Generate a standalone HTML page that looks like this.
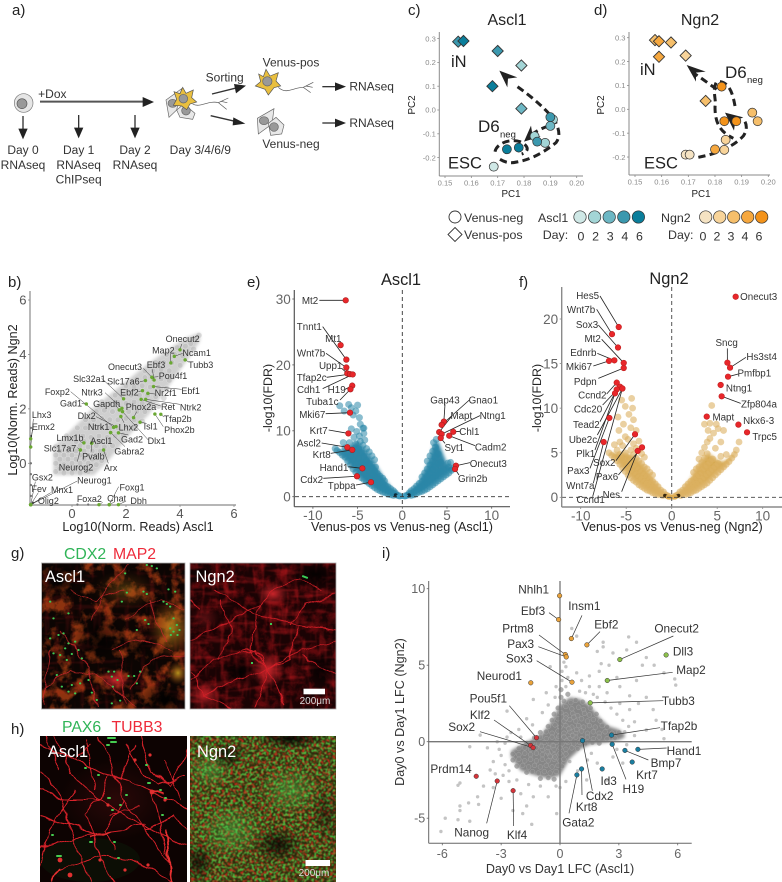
<!DOCTYPE html>
<html lang="en">
<head>
<meta charset="utf-8">
<title>Neuronal differentiation figure</title>
<style>
html,body{margin:0;padding:0;background:#fff;width:782px;height:882px;overflow:hidden}
svg{display:block;font-family:"Liberation Sans",sans-serif}
</style>
</head>
<body>
<svg id="fig" width="782" height="882" viewBox="0 0 782 882" xmlns="http://www.w3.org/2000/svg">
<defs>
<filter id="soft" filterUnits="userSpaceOnUse" x="0" y="270" width="782" height="612" color-interpolation-filters="sRGB">
<feGaussianBlur stdDeviation="1.7"/>
</filter>
<filter id="hazeRed" x="0" y="0" width="100%" height="100%" color-interpolation-filters="sRGB">
<feTurbulence type="fractalNoise" baseFrequency="0.09" numOctaves="4" seed="4"/>
<feColorMatrix values="0 0 0 0 .6  0 0 0 0 .06  0 0 0 0 .08  3 0 0 0 -1.3"/>
</filter>
<filter id="hazeOrange" x="0" y="0" width="100%" height="100%" color-interpolation-filters="sRGB">
<feTurbulence type="fractalNoise" baseFrequency="0.07" numOctaves="4" seed="9"/>
<feColorMatrix values="0 0 0 0 .55  0 0 0 0 .2  0 0 0 0 .06  4 0 0 0 -1.9"/>
</filter>
<filter id="streakA" x="0" y="0" width="100%" height="100%" color-interpolation-filters="sRGB">
<feTurbulence type="fractalNoise" baseFrequency="0.03 0.2" numOctaves="3" seed="12"/>
<feColorMatrix values="0 0 0 0 .86  0 0 0 0 .12  0 0 0 0 .14  7 0 0 0 -3.9"/>
<feGaussianBlur stdDeviation=".5"/>
</filter>
<filter id="streakB" x="0" y="0" width="100%" height="100%" color-interpolation-filters="sRGB">
<feTurbulence type="fractalNoise" baseFrequency="0.2 0.03" numOctaves="3" seed="31"/>
<feColorMatrix values="0 0 0 0 .86  0 0 0 0 .12  0 0 0 0 .14  7 0 0 0 -3.9"/>
<feGaussianBlur stdDeviation=".5"/>
</filter>
<filter id="speckGreen" x="0" y="0" width="100%" height="100%" color-interpolation-filters="sRGB">
<feTurbulence type="fractalNoise" baseFrequency="0.42" numOctaves="2" seed="7"/>
<feColorMatrix values="0 0 0 0 .3  0 0 0 0 .76  0 0 0 0 .26  7 0 0 0 -3.5"/>
<feGaussianBlur stdDeviation=".45"/>
</filter>
<filter id="speckRed" x="0" y="0" width="100%" height="100%" color-interpolation-filters="sRGB">
<feTurbulence type="fractalNoise" baseFrequency="0.36" numOctaves="2" seed="21"/>
<feColorMatrix values="0 0 0 0 .78  0 0 0 0 .16  0 0 0 0 .1  6 0 0 0 -2.9"/>
<feGaussianBlur stdDeviation=".45"/>
</filter>
<filter id="wiggle" filterUnits="userSpaceOnUse" x="0" y="540" width="350" height="342" color-interpolation-filters="sRGB">
<feTurbulence type="fractalNoise" baseFrequency="0.06" numOctaves="2" seed="5" result="n"/>
<feDisplacementMap in="SourceGraphic" in2="n" scale="9" xChannelSelector="R" yChannelSelector="G"/>
</filter>
<radialGradient id="glowRed"><stop offset="0" stop-color="#e52a30" stop-opacity=".85"/><stop offset="1" stop-color="#e52a30" stop-opacity="0"/></radialGradient>
<radialGradient id="glowOrange"><stop offset="0" stop-color="#c8a020" stop-opacity=".9"/><stop offset="1" stop-color="#a04510" stop-opacity="0"/></radialGradient>
<radialGradient id="glowDark"><stop offset="0" stop-color="#000" stop-opacity=".9"/><stop offset="1" stop-color="#000" stop-opacity="0"/></radialGradient>
<radialGradient id="glowGreen"><stop offset="0" stop-color="#50d050" stop-opacity=".4"/><stop offset="1" stop-color="#50d050" stop-opacity="0"/></radialGradient>
<clipPath id="clipGA"><rect x="42" y="563" width="143" height="146"/></clipPath>
<clipPath id="clipGN"><rect x="190" y="563" width="146" height="146"/></clipPath>
<clipPath id="clipHA"><rect x="40" y="736" width="147" height="146"/></clipPath>
<clipPath id="clipHN"><rect x="190" y="736" width="146" height="146"/></clipPath>
</defs>

<!-- panel letters -->
<g font-size="15" fill="#222">
<text x="12" y="15">a)</text>
<text x="8" y="287">b)</text>
<text x="408" y="15">c)</text>
<text x="594" y="15">d)</text>
<text x="247" y="287">e)</text>
<text x="519" y="287">f)</text>
<text x="11" y="558">g)</text>
<text x="11" y="734">h)</text>
<text x="382" y="558">i)</text>
</g>

<!-- panel a: schematic, coordinates are 3x -->
<g transform="scale(.33333)">
 <circle cx="71" cy="309" r="28" fill="#e6e6e6" stroke="#777" stroke-width="2"/>
 <circle cx="66" cy="311" r="15" fill="#999" stroke="#555" stroke-width="2"/>
 <g stroke="#333" stroke-width="4" fill="none">
  <line x1="120" y1="305" x2="435" y2="305" stroke="#555" stroke-width="6"/>
  <line x1="69" y1="348" x2="69" y2="392"/><line x1="236" y1="345" x2="236" y2="390"/><line x1="405" y1="345" x2="405" y2="390"/>
  <line x1="636" y1="282" x2="712" y2="263"/><line x1="632" y1="347" x2="710" y2="365"/>
  <line x1="967" y1="260" x2="1010" y2="260"/><line x1="967" y1="369" x2="1010" y2="369"/>
 </g>
 <g fill="#222">
  <polygon points="462,306 428,291 428,321"/>
  <polygon points="69,418 55,386 83,386"/><polygon points="236,415 222,383 250,383"/><polygon points="405,415 391,383 419,383"/>
  <polygon points="738,257 702,252 708,280"/><polygon points="736,371 700,352 698,376"/>
  <polygon points="1038,260 1005,247 1005,273"/><polygon points="1038,369 1005,356 1005,382"/>
 </g>
 <g stroke="#666" stroke-width="2" fill="#e8e8e8">
  <polygon points="498,300 545,266 530,330 507,352"/>
  <ellipse cx="518" cy="310" rx="14" ry="12" fill="#999"/>
  <polygon points="530,330 552,312 585,340 578,358 540,352"/>
  <circle cx="558" cy="332" r="13" fill="#999"/>
  <polygon fill="#e9bf3f" stroke="#555" points="548,262 558,280 580,270 575,293 590,306 570,312 560,329 545,318 520,316 530,298 522,275 540,281"/>
  <circle cx="550" cy="296" r="13" fill="#999"/>
  <path fill="none" stroke="#555" d="M578,312 C600,325 625,300 655,308 M655,308 L685,294 M655,308 L680,328 M662,304 L682,308"/>
 </g>
 <g stroke="#666" stroke-width="2">
  <polygon fill="#e9bf3f" stroke="#555" points="798,208 810,228 835,218 828,243 842,258 822,263 805,285 795,268 766,258 782,245 776,222 790,230"/>
  <circle cx="802" cy="244" r="14" fill="#999"/>
  <path fill="none" stroke="#555" d="M835,262 C860,285 880,262 910,262 M910,262 L940,247 M910,262 L932,278 M918,258 L938,262"/>
 </g>
 <g stroke="#666" stroke-width="2" fill="#e8e8e8">
  <polygon points="772,355 822,326 816,372 775,402"/>
  <ellipse cx="792" cy="362" rx="14" ry="12" fill="#999"/>
  <polygon points="805,370 828,352 852,375 845,402 812,406"/>
  <circle cx="822" cy="381" r="13" fill="#999"/>
 </g>
 <g font-size="36" fill="#333" text-anchor="middle">
  <text x="157" y="294">+Dox</text>
  <text x="69" y="462">Day 0</text>
  <text x="69" y="507">RNAseq</text>
  <text x="236" y="462">Day 1</text>
  <text x="236" y="507">RNAseq</text>
  <text x="236" y="550">ChIPseq</text>
  <text x="405" y="462">Day 2</text>
  <text x="405" y="507">RNAseq</text>
  <text x="601" y="462">Day 3/4/6/9</text>
  <text x="674" y="244">Sorting</text>
  <text x="873" y="200">Venus-pos</text>
  <text x="873" y="444">Venus-neg</text>
  <text x="1115" y="271">RNAseq</text>
  <text x="1115" y="381">RNAseq</text>
 </g>
</g>

<!-- trajectories for panels c and d, coordinates are 3x -->
<g id="paths-cd" transform="translate(400,0) scale(.33333)">
 <g fill="none" stroke="#222" stroke-width="9" stroke-dasharray="22 13">
  <path d="M300,478 C320,490 335,490 350,486 C400,478 440,450 468,428 C482,410 478,385 462,358 C430,320 395,290 345,255"/>
  <path d="M285,455 C290,430 330,415 360,425 C385,435 390,455 365,462"/>
  <path d="M445,378 C425,385 405,395 390,408"/>
  <path d="M895,472 C930,465 990,450 1030,408 C1042,390 1040,375 1035,365"/>
  <path d="M1005,318 C1000,290 990,240 950,245 C935,270 950,300 945,320 C945,370 960,395 1000,415"/>
  <path d="M950,268 C925,250 905,235 885,222"/>
 </g>
 <g fill="#222">
  <polygon points="298,212 352,232 324,236 322,262"/>
  <polygon points="372,425 393,377 397,402 422,410"/>
  <polygon points="860,195 917,215 888,218 888,245"/>
  <polygon points="975,338 1030,352 1006,362 1002,392"/>
 </g>
</g>

<!-- panel g -->
<text x="64" y="559" font-size="15.8" fill="#2fb457">CDX2</text>
<text x="113" y="559" font-size="15.8" fill="#ee2a3a">MAP2</text>
<g clip-path="url(#clipGA)">
 <rect x="42" y="563" width="143" height="146" fill="#0c0503"/>
 <rect x="42" y="563" width="143" height="146" filter="url(#hazeOrange)"/>
 <rect x="42" y="563" width="143" height="146" filter="url(#streakA)" opacity=".13"/>
 <rect x="42" y="563" width="143" height="146" filter="url(#streakB)" opacity=".13"/>
 <ellipse cx="172" cy="628" rx="24" ry="30" fill="url(#glowOrange)" opacity=".85"/>
 <ellipse cx="178" cy="673" rx="11" ry="12" fill="url(#glowOrange)"/>
 <ellipse cx="115" cy="680" rx="15" ry="11" fill="url(#glowRed)"/>
 <ellipse cx="125" cy="590" rx="32" ry="20" fill="url(#glowOrange)" opacity=".35"/>
 <ellipse cx="100" cy="640" rx="26" ry="28" fill="url(#glowDark)" opacity=".8"/>
 <ellipse cx="165" cy="700" rx="26" ry="18" fill="url(#glowDark)"/>
 <ellipse cx="58" cy="580" rx="20" ry="20" fill="url(#glowDark)"/>
 <ellipse cx="140" cy="650" rx="16" ry="14" fill="url(#glowDark)" opacity=".6"/>
 <path filter="url(#wiggle)" fill="none" stroke="#c8282a" stroke-width=".9" opacity=".85" d="M90,620 L110,585 L128,565 M60,630 L85,660 L98,708 M125,620 L160,600 L185,610 M110,650 L135,640 L175,650 M45,690 L70,670 L105,680 L135,708 M130,690 L150,660 L185,655 M70,590 L95,600 L125,590 M165,640 L150,600 M50,650 L44,705 M120,650 L125,705"/>
 <path transform="translate(0,530) scale(.33333)" fill="none" stroke="#3ccb55" stroke-width="6" stroke-linecap="round" d="M455,108h1M470,115h1M440,105h1M375,130h1M430,185h1M440,192h1M505,178h1M525,185h1M380,188h1M365,215h1M500,222h1M490,215h1M510,230h1M150,215h1M160,265h1M435,270h1M445,282h1M410,300h1M520,265h1M530,285h1M510,295h1M520,305h1M538,300h1M512,315h1M532,315h1M190,310h1M150,325h1M175,315h1M205,340h1M225,335h1M195,355h1M235,360h1M215,372h1M180,375h1M245,385h1M200,390h1M160,370h1M325,425h1M342,425h1M335,440h1M352,450h1M385,438h1M402,438h1M420,425h1M338,470h1M410,460h1M185,470h1M205,485h1M215,465h1M240,460h1M225,490h1M170,435h1M360,512h1M335,520h1M290,510h1M275,488h1M265,450h1M205,250h1"/>
</g>
<g clip-path="url(#clipGN)">
 <rect x="190" y="563" width="146" height="146" fill="#1a0304"/>
 <rect x="190" y="563" width="146" height="146" filter="url(#hazeRed)" opacity=".55"/>
 <rect x="190" y="563" width="146" height="146" filter="url(#streakA)" opacity=".28"/>
 <rect x="190" y="563" width="146" height="146" filter="url(#streakB)" opacity=".28"/>
 <ellipse cx="273" cy="594" rx="16" ry="11" fill="url(#glowRed)"/>
 <ellipse cx="268" cy="670" rx="17" ry="18" fill="url(#glowRed)"/>
 <ellipse cx="205" cy="695" rx="16" ry="14" fill="url(#glowRed)" opacity=".85"/>
 <ellipse cx="205" cy="618" rx="14" ry="12" fill="url(#glowRed)" opacity=".35"/>
 <ellipse cx="240" cy="672" rx="20" ry="15" fill="url(#glowDark)"/>
 <ellipse cx="322" cy="670" rx="16" ry="20" fill="url(#glowDark)"/>
 <ellipse cx="315" cy="575" rx="28" ry="14" fill="url(#glowDark)"/>
 <ellipse cx="200" cy="575" rx="14" ry="12" fill="url(#glowDark)" opacity=".7"/>
 <path filter="url(#wiggle)" fill="none" stroke="#d62028" stroke-width=".9" opacity=".9" d="M190,640 L230,620 L260,605 L275,590 M215,590 L255,615 L300,625 L336,630 M260,605 L250,650 L268,670 M300,625 L290,660 L268,670 M190,680 L215,660 L255,650 L268,670 L300,650 L336,640 M205,695 L235,680 L268,670 L285,705 M205,695 L190,670 M205,695 L230,708 M268,670 L255,708 M300,655 L336,675 M220,660 L232,632 L220,600 M336,595 L305,605 L290,625 M275,590 L300,578 L322,590 M235,655 C250,645 265,650 262,665 M200,610 L190,600"/>
 <rect x="302" y="576" width="6" height="2" fill="#3ccb55" transform="rotate(20 305 577)"/>
 <rect x="270" y="623" width="2" height="2" fill="#3ccb55"/><rect x="251" y="662" width="2" height="2" fill="#3ccb55"/>
</g>
<rect x="41.5" y="563" width="143.5" height="146" fill="none" stroke="#aaa" stroke-width=".8"/>
<rect x="190" y="563" width="146" height="146" fill="none" stroke="#aaa" stroke-width=".8"/>
<text x="45" y="582" font-size="16.4" fill="#fff">Ascl1</text>
<text x="195.5" y="582" font-size="16.4" fill="#fff">Ngn2</text>
<rect x="303.5" y="688.7" width="21.5" height="5.6" fill="#fff"/>
<text x="315" y="704" font-size="10" text-anchor="middle" fill="#ddd">200μm</text>

<!-- panel h -->
<text x="62" y="732" font-size="15.8" fill="#2fb457">PAX6</text>
<text x="111.5" y="732" font-size="15.8" fill="#ee2a3a">TUBB3</text>
<g clip-path="url(#clipHA)">
 <rect x="40" y="736" width="147" height="146" fill="#0d0302"/>
 <ellipse cx="115" cy="800" rx="55" ry="40" fill="url(#glowRed)" opacity=".16"/>
 <ellipse cx="90" cy="860" rx="50" ry="22" fill="#0c1608" opacity=".6"/>
 <g filter="url(#wiggle)">
 <path fill="none" stroke="#d8222a" stroke-width="1" d="M40,745 L75,760 L110,775 L150,790 L187,810 M55,736 L72,775 L100,800 L140,825 L187,845 M100,736 L115,775 L125,800 L145,830 L170,865 L172,882 M125,745 L140,770 L160,785 L187,775 M140,736 L150,770 L170,785 L187,750 M40,790 L65,800 L100,800 M40,815 L70,825 L95,835 L120,830 L145,825 M40,850 L65,840 L95,835 L100,860 L115,882 M95,835 L85,815 L100,800 L110,775 M60,870 L95,855 L140,862 L172,882 M145,830 L175,815 L187,830 M150,790 L160,825 L166,855 M125,800 L105,830 L115,850 M40,770 L60,795 L75,845 L90,882 M75,760 L90,745 M165,760 L180,800 M45,735 L60,770 M85,740 L95,790 M50,830 L40,870 M120,780 L135,745 M110,815 L140,805 M75,790 L50,830"/>
 <path fill="none" stroke="#e63030" stroke-width="1.8" d="M166,830 L168,855 L172,882 M150,790 L165,792 M92,838 L112,832 M60,868 L52,882"/>
 </g>
 <g fill="#e03030"><circle cx="135" cy="760" r="1.6"/><circle cx="152" cy="792" r="2.4"/><circle cx="108" cy="805" r="1.6"/><circle cx="150" cy="755" r="1.6"/><circle cx="60" cy="860" r="2.4"/><circle cx="100" cy="860" r="1.6"/><circle cx="148" cy="865" r="1.6"/><circle cx="125" cy="870" r="1.6"/><circle cx="70" cy="875" r="2.4"/><circle cx="165" cy="800" r="1.6"/></g>
 <path fill="none" stroke="#46cc50" stroke-width="2" stroke-linecap="round" d="M108,738h7M111,742h5M107,745h2M146,765h1M148,783h2M126,795h1M108,798h2M112,810h1M120,805h1M165,798h1M162,815h1M52,835h1M57,856h4M90,842h2M114,842h1M118,858h1M85,768h1M98,775h1M160,790h1"/>
</g>
<g clip-path="url(#clipHN)">
 <rect x="190" y="736" width="146" height="146" fill="#2c2c0c"/>
 <rect x="190" y="736" width="146" height="146" filter="url(#speckRed)"/>
 <rect x="190" y="736" width="146" height="146" filter="url(#speckGreen)"/>
 <ellipse cx="290" cy="790" rx="32" ry="26" fill="url(#glowGreen)"/>
 <ellipse cx="232" cy="830" rx="34" ry="28" fill="url(#glowGreen)"/>
 <ellipse cx="210" cy="770" rx="22" ry="20" fill="url(#glowGreen)"/>
 <ellipse cx="228" cy="755" rx="18" ry="14" fill="url(#glowDark)" opacity=".8"/>
 <ellipse cx="290" cy="738" rx="34" ry="12" fill="url(#glowDark)"/>
 <ellipse cx="278" cy="845" rx="26" ry="18" fill="url(#glowDark)" opacity=".85"/>
 <ellipse cx="198" cy="862" rx="16" ry="20" fill="url(#glowDark)" opacity=".8"/>
 <ellipse cx="325" cy="815" rx="14" ry="30" fill="url(#glowDark)" opacity=".45"/>
</g>
<text x="48" y="757" font-size="16.4" fill="#fff">Ascl1</text>
<text x="197" y="757" font-size="16.4" fill="#fff">Ngn2</text>
<rect x="305.5" y="860" width="24.5" height="6" fill="#fff"/>
<text x="314" y="876" font-size="10" text-anchor="middle" fill="#ddd">200μm</text>

<g id="plots"></g>
</svg>

<script>
/* ---------- panel b data ---------- */
const bTicks = [0,2,4,6];
const bBandX = [-.65,-.2,.3,.8,1.3,1.8,2.3,2.8,3.3,3.8,4.3,4.7];
const bBandLo = [-.4,-.4,-.4,-.4,.1,.7,1.3,1.8,2.5,3.2,3.9,4.5];
const bBandHi = [.6,1,1.5,2,2.4,2.8,3.2,3.6,3.95,4.3,4.6,4.75];
const bCloud = [[-.6,-.3],[-.3,-.35],[0,-.35],[.3,-.35],[.6,-.3],[-.6,0],[-.3,-.05],[0,0],[.3,0],[.6,0],[.9,-.05],[1.1,.1],[-.6,.3],[-.3,.3],[0,.3],[.3,.3],[.6,.3],[.9,.3],[1.2,.35],[-.6,.6],[-.3,.65],[0,.6],[.3,.65],[.6,.6],[.9,.65],[1.2,.6],[1.5,.65],[-.2,1],[.1,.95],[.4,1],[.7,.95],[1,1],[1.3,.95],[1.6,1],[1.9,1.05],[.2,1.3],[.5,1.3],[.8,1.3],[1.1,1.3],[1.4,1.3],[1.7,1.3],[2,1.35],[2.3,1.3],[.5,1.6],[.8,1.6],[1.1,1.65],[1.4,1.6],[1.7,1.6],[2,1.65],[2.3,1.6],[2.6,1.55],[.9,1.9],[1.2,1.95],[1.5,1.9],[1.8,1.95],[2.1,1.9],[2.4,1.9],[2.7,1.9],[1.1,2.25],[1.4,2.2],[1.7,2.25],[2,2.2],[2.3,2.25],[2.6,2.2],[2.9,2.2],[3.2,2.1],[1.6,2.5],[1.9,2.55],[2.2,2.5],[2.5,2.5],[2.8,2.5],[3.1,2.45],[3.4,2.4],[2,2.85],[2.3,2.8],[2.6,2.85],[2.9,2.8],[3.2,2.8],[3.5,2.75],[2.4,3.1],[2.7,3.15],[3,3.1],[3.3,3.1],[3.6,3.05],[2.7,3.4],[3,3.4],[3.3,3.45],[3.6,3.4],[3.1,3.7],[3.4,3.7],[3.7,3.7],[4,3.6],[3.5,4],[3.8,4],[4.1,3.95],[3.9,4.25],[4.2,4.3],[4.4,4.4],[4.6,4.6],[4.7,4.7],[4.5,4.2],[-.45,-.2],[-.15,-.2],[.15,-.15],[.45,-.15],[-.45,.15],[-.15,.15],[.15,.15],[.45,.15],[.75,.15],[-.45,.45],[-.15,.45],[.15,.45],[.45,.45],[.75,.45],[1.05,.45],[.15,.8],[.45,.8],[.75,.8],[1.05,.8],[1.35,.8]];
const bAxisEdge = [[-1.53,-1.2],[-1.53,-.8],[-1.53,-.4],[-1.53,0],[-1.53,.6],[-1.53,1],[-1.53,1.3],[.2,-1.52],[.6,-1.52],[1,-1.52],[1.38,-1.52],[1.72,-1.52],[-1.5,-1.5],[-1.44,-1.45]];
const bGenes = ['Onecut2','Ncam1','Map2','Tubb3','Onecut3','Ebf3','Slc32a1','Slc17a6','Pou4f1','Ebf2','Nr2f1','Ebf1','Foxp2','Ntrk3','Gad1','Gapdh','Phox2a','Ret','Ntrk2','Dlx2','Tfap2b','Phox2b','Ntrk1','Lhx2','Isl1','Dlx1','Gad2','Lmx1b','Ascl1','Slc17a7','Gabra2','Pvalb','Neurog2','Arx','Lhx3','Emx2','Gsx2','Fev','Mnx1','Olig2','Neurog1','Foxa2','Chat','Dbh','Foxg1'];
const bGeneX = [4.0,3.79,3.66,4.19,2.96,3.04,1.91,2.72,2.96,2.61,2.81,3.02,1.54,1.85,.53,1.75,2.28,2.56,2.73,1.63,3.29,3.07,1.43,1.81,2.52,1.87,1.72,.44,.73,.31,1.43,.73,.31,1.17,-1.53,-1.53,-1.53,-1.53,-1.53,-1.53,-1.53,1.0,1.38,1.72,1.38];
const bGeneY = [4.17,3.93,3.69,3.8,3.16,3.06,2.37,3.04,3.16,2.67,2.57,2.82,1.32,2.02,2.18,1.96,1.68,2.35,2.35,1.35,1.8,1.81,1.13,1.72,1.51,1.9,1.12,.75,.74,.49,1.13,.74,.49,.49,.6,.9,-1.52,-1.52,-1.52,-1.52,-1.52,-1.52,-1.52,-1.52,-1.52];
const bLabelAt = [[548,207,545,222],[590,249,548,250],[490,241,512,252],[602,284,565,275],[375,291,430,295],[468,285,457,298],[268,327,305,325],[370,334,420,335],[519,318,475,320],[388,367,415,365],[497,369,465,372],[572,362,545,358],[172,365,212,365],[276,367,315,368],[213,400,245,401],[320,401,350,410],[423,411,410,425],[504,410,482,408],[572,412,540,403],[260,438,288,440],[533,446,492,441],[538,479,490,470],[296,470],[385,472,372,458],[452,469,440,460],[470,513,445,510],[396,508,385,495],[210,503,240,515],[304,513],[180,535,232,533],[388,544,375,530],[280,559,275,545],[228,592,232,575],[332,594,325,580],[125,434,100,447],[130,471,98,480],[127,622,106,635],[117,656,115,668],[186,659,152,668],[145,692,115,690],[283,631,232,633],[268,686,308,697],[350,685,345,695],[416,692,375,695],[396,652,356,650]];

/* ---------- panels c and d data ---------- */
const cTickX = [.15,.16,.17,.18,.19,.20];
const cTickY = [.3,.2,.1,0,-.1,-.2];
const cDiamondX = [.155,.157,.17,.179,.168,.179];
const cDiamondY = [.287,.29,.248,.187,.10,.006];
const cDiamondDay = [4,6,4,2,6,3];
const cCircleX = [.1685,.1735,.178,.188,.184,.185,.191,.19,.19];
const cCircleY = [-.238,-.165,-.158,-.138,-.11,-.133,-.04,-.067,-.03];
const cCircleDay = [0,6,6,2,2,4,2,3,4];
const dDiamondX = [.1575,.159,.1635,.159,.169,.1765];
const dDiamondY = [.29,.285,.28,.22,.225,.035];
const dDiamondDay = [3,4,3,4,2,3];
const dCircleX = [.169,.1705,.18,.1835,.184,.1825,.1835,.188,.194,.196];
const dCircleY = [-.19,-.19,-.168,-.17,-.128,.095,-.05,-.05,-.014,-.05];
const dCircleDay = [0,0,4,2,2,6,6,6,3,3];
const legendDays = [0,2,3,4,6];

/* ---------- panel e data ---------- */
const eTickX = [-10,-5,0,5,10];
const eTickY = [0,10,20,30];
const eLeftBandX = [0,-1,-2,-3,-4,-5,-6,-7,-7.6];
const eLeftBandLo = [0,.1,.5,1.2,2.1,3.3,5,6.5,7.3];
const eLeftBandHi = [0,1,2.8,5,7,8.5,7.6,7,7.4];
const eRightBandX = [0,1,2,3,3.5,4,5,5.8];
const eRightBandLo = [0,.1,.6,1.4,1.8,2.3,3.3,4.1];
const eRightBandHi = [0,.9,2.6,5.5,8,8.5,5,4.5];
const eOriginDark = [[-.75,.25],[-.6,.15],[.6,.15],[.75,.25]];
const eBlue = [[-.3,.1],[-.5,.2],[-.7,.3],[-.8,.6],[-1,.2],[-1,.5],[-1,.9],[-1.3,.3],[-1.3,.7],[-1.3,1.2],[-1.6,.4],[-1.6,.9],[-1.6,1.5],[-1.9,.6],[-1.9,1.1],[-1.9,1.7],[-2,2.4],[-2.2,.7],[-2.2,1.3],[-2.2,2],[-2.2,2.8],[-2.5,.9],[-2.5,1.5],[-2.5,2.2],[-2.5,3.1],[-2.8,1.1],[-2.8,1.8],[-2.8,2.6],[-2.8,3.5],[-3,4.5],[-3.1,1.4],[-3.1,2.2],[-3.1,3],[-3.1,3.9],[-3.1,5.6],[-3.4,1.7],[-3.4,2.5],[-3.4,3.4],[-3.4,4.4],[-3.4,6.2],[-3.7,2],[-3.7,2.9],[-3.7,3.9],[-3.7,5],[-3.7,6.8],[-4,2.3],[-4,3.2],[-4,4.3],[-4,5.5],[-4,7.3],[-4.2,8.6],[-4.3,2.6],[-4.3,3.6],[-4.3,4.8],[-4.3,6.1],[-4.4,7.8],[-4.6,2.9],[-4.6,4],[-4.6,5.2],[-4.6,6.7],[-4.7,8.4],[-4.3,9.6],[-4.9,3.3],[-4.9,4.5],[-4.9,5.8],[-4.9,7.3],[-4.8,9.2],[-5.2,3.7],[-5.2,5],[-5.2,6.5],[-5.2,8],[-5.1,9.9],[-4.3,10.4],[-5.5,4.2],[-5.5,5.6],[-5.5,7.3],[-5.4,9],[-5.7,10.3],[-5.8,4.8],[-5.8,6.2],[-5.9,8.2],[-6.1,5.4],[-6.1,6.8],[-6.4,6],[-6.4,7.4],[-6.7,6.3],[-7,6.7],[-7.3,7],[-6.6,8.2],[-7.5,7.3],[-7,13.8],[-6,14],[-5.7,13.5],[-5,13.9],[-5.2,13],[-5.5,12.4],[-6.5,13],[-4.8,12],[-4.7,11],[-4.4,10.4],
[.3,.1],[.5,.2],[.7,.3],[.8,.6],[1,.2],[1,.5],[1,.9],[1.3,.3],[1.3,.7],[1.3,1.2],[1.6,.5],[1.6,1],[1.6,1.6],[1.9,.7],[1.9,1.3],[1.9,2],[2.2,.8],[2.2,1.5],[2.2,2.3],[2.2,3],[2.5,1],[2.5,1.8],[2.5,2.7],[2.5,3.6],[2.8,1.2],[2.8,2.1],[2.8,3.1],[2.8,4.2],[2.8,5.4],[3.1,1.5],[3.1,2.5],[3.1,3.6],[3.1,4.8],[3.1,6.2],[3.4,1.8],[3.4,2.9],[3.4,4.1],[3.4,5.4],[3.4,6.9],[3.5,8.2],[3.7,2.1],[3.7,3.2],[3.7,4.5],[3.7,6],[3.7,7.5],[3.8,8.7],[4,2.4],[4,3.6],[4,5],[4,6.5],[4.3,2.7],[4.3,3.9],[4.3,5.2],[4.6,3],[4.6,4.2],[4.9,3.3],[5.2,3.6],[5.2,4.5],[5.5,4],[5.4,5.2],[5.1,5.1],[5.7,4.3]];
const eOriginLight = [[-.4,.03],[-.2,.02],[0,.02],[.2,.02],[.4,.03]];
const eGenes = ['Mt2','Mt1','Tnnt1','Wnt7b','Upp1','Tfap2c','Cdh1','H19','Tuba1c','Mki67','Krt7','Ascl2','Krt8','Hand1','Cdx2','Tpbpa','Gap43','Gnao1','Mapt','Ntng1','Chl1','Cadm2','Syt1','Onecut3','Grin2b'];
const eGeneX = [-6.33,-6.9,-6.26,-6.26,-6.15,-5.85,-5.55,-5.6,-5.8,-5.85,-6.03,-6.15,-5.6,-4.47,-5.07,-3.5,4.65,4.4,4.13,4.4,5.7,5.25,4.3,6,5.9];
const eGeneY = [29.8,23,20.8,19.6,18.7,18.6,18.55,16.85,16.3,12.75,9.6,7.5,7.1,4.3,3.1,2.2,11.4,10.9,9.8,9.5,9.85,9.25,8.9,4.7,4.2];
const eLabelAt = [[210,92,238,91],[280,205],[208,170,248,170],[213,249,258,250],[272,287,305,295],[215,322,260,322],[206,359,248,356],[290,358,315,358],[247,395,300,390],[217,433,257,431],[236,481,266,480],[207,519,245,519],[245,553,272,550],[282,592,325,590],[215,629,250,625],[305,646,348,645],[615,390,615,403],[730,390,688,390],[664,437,634,440],[758,437,720,437],[688,484,660,484],[752,531,705,527],[643,532,615,520],[745,581,690,578],[698,626,657,615]];

/* ---------- panel f data ---------- */
const fTickX = [-10,-5,0,5,10];
const fTickY = [0,5,10,15,20];
const fLeftBandX = [0,-1,-2,-3,-4,-5,-6,-6.9];
const fLeftBandLo = [0,.08,.4,.9,1.7,2.8,4,4.9];
const fLeftBandHi = [0,.7,2,3.5,4.5,5,5,5];
const fRightBandX = [0,1,2,3,4,5,5.7,6.5,7.1];
const fRightBandLo = [0,.1,.4,1,1.7,2.7,3.2,4.2,5];
const fRightBandHi = [0,.7,2,3.8,5,4.2,4,4.6,5.2];
const fOriginDark = [[-.75,.2],[-.6,.12],[.6,.12],[.75,.2]];
const fGold = [[-.3,.1],[-.5,.2],[-.7,.3],[-.9,.6],[-1,.2],[-1.2,.4],[-1.2,.8],[-1.5,.3],[-1.5,.7],[-1.5,1.2],[-1.8,.4],[-1.8,.9],[-1.8,1.5],[-2.1,.5],[-2.1,1.1],[-2.1,1.8],[-2.1,2.5],[-2.4,.7],[-2.4,1.3],[-2.4,2],[-2.4,2.8],[-2.7,.8],[-2.7,1.5],[-2.7,2.3],[-2.7,3.2],[-3,1],[-3,1.7],[-3,2.5],[-3,3.4],[-3,4.5],[-3.3,1.2],[-3.3,2],[-3.3,2.8],[-3.3,3.8],[-3.3,4.9],[-3.6,1.4],[-3.6,2.2],[-3.6,3.1],[-3.6,4.1],[-3.6,5.3],[-3.6,6.3],[-3.9,1.7],[-3.9,2.5],[-3.9,3.4],[-3.9,4.4],[-3.9,5.5],[-4.2,1.9],[-4.2,2.8],[-4.2,3.7],[-4.2,4.8],[-4.2,6],[-4.2,8.7],[-4.5,2.2],[-4.5,3.1],[-4.5,4.1],[-4.5,5.3],[-4.5,7.8],[-4.8,2.5],[-4.8,3.4],[-4.8,4.4],[-4.8,6.5],[-4.7,9.3],[-5.1,2.9],[-5.1,3.8],[-5.1,5],[-5.1,6.8],[-5.1,10.2],[-5.3,8.2],[-5.4,3.3],[-5.4,4.3],[-5.4,5.8],[-5.7,3.7],[-5.7,4.8],[-5.7,6.2],[-5.9,9],[-6,4.1],[-6,5.3],[-6.3,4.4],[-6.3,5.9],[-6.6,4.7],[-6.9,5],[-4.4,11.1],[-5.5,10.9],[-5.8,7.5],[-3.9,7.5],[-4.3,10],
[.3,.1],[.5,.2],[.7,.3],[.9,.6],[1,.2],[1.2,.4],[1.2,.8],[1.5,.3],[1.5,.7],[1.5,1.2],[1.8,.4],[1.8,.9],[1.8,1.5],[2.1,.5],[2.1,1.1],[2.1,1.8],[2.4,.7],[2.4,1.3],[2.4,2],[2.4,2.8],[2.7,.8],[2.7,1.5],[2.7,2.3],[2.7,3.2],[3,1],[3,1.7],[3,2.5],[3,3.4],[3,4.3],[3.3,1.2],[3.3,2],[3.3,2.9],[3.3,3.9],[3.3,5],[3.6,1.4],[3.6,2.3],[3.6,3.3],[3.6,4.4],[3.6,5.6],[3.6,8.2],[3.9,1.6],[3.9,2.6],[3.9,3.6],[3.9,4.9],[3.9,6.2],[4,7.5],[4.2,1.9],[4.2,2.9],[4.2,4],[4.2,6.6],[4.2,8.3],[4.4,10.3],[4.5,2.2],[4.5,3.2],[4.5,4.3],[4.6,7.2],[4.8,2.5],[4.8,3.5],[4.8,5.5],[4.9,8.2],[5.1,2.8],[5.1,3.8],[5.1,7.7],[5.4,3.1],[5.4,4.6],[5.4,6.2],[5.7,3.4],[5.7,7.5],[6,3.7],[6,4.8],[6.3,4],[6.6,4.4],[6.9,4.8],[7.1,5.3],[7.4,6.2]];
const fOriginLight = [[-.4,.03],[-.2,.02],[0,.02],[.2,.02],[.4,.03]];
const fGenes = ['Hes5','Wnt7b','Sox3','Mt2','Ednrb','Mki67','Pdpn','Ccnd2','Cdc20','Tead2','Ube2c','Plk1','Pax3','Wnt7a','Ccnd1','Sox2','Pax6','Nes','Onecut3','Sncg','Hs3st4','Pmfbp1','Ntng1','Zfp804a','Mapt','Nkx6-3','Trpc5'];
const fGeneX = [-5.82,-6.56,-5.9,-5.27,-6.3,-6.89,-5.27,-6.04,-5.68,-6.04,-5.42,-6.23,-6.85,-7.47,-5.42,-4.03,-3.26,-3.74,7.03,6.12,6.41,6.19,5.38,5.49,3.85,7.33,8.28];
const fGeneY = [19.1,18.3,16.8,15.07,15.36,15.3,14.5,12.86,12.4,12.1,12.2,11.66,8.9,6.2,12.2,7.07,5.6,5.2,22.5,15.1,14.54,13.53,12.6,11.33,9.05,8.15,7.29];
const fLabelAt = [[233,77,270,78],[213,118,260,118],[231,163,265,165],[248,206,275,208],[220,247,262,250],[207,290,250,288],[226,334,265,325],[247,375,290,372],[234,417,278,405],[229,463,270,455],[219,508,262,495],[227,550,255,540],[205,602,240,595],[211,647,250,640],[242,689,248,680],[283,577,318,572],[291,620,325,615],[304,673,335,665],[746,80],[650,218,652,235],[755,260,708,262],[733,309,685,312],[687,354],[747,402,692,400],[640,441],[746,452],[764,499]];

/* ---------- panel i data ---------- */
const iTickX = [-6,-3,0,3,6];
const iTickY = [-5,0,5,10];
const iBandX = [-2.5,-2,-1.5,-1,-.5,0,.5,1,1.5,2,2.5,3,3.3];
const iBandLo = [-1,-1.9,-2.1,-2.3,-2.4,-2.2,-1.1,-.5,-.2,-.1,0,.1,.3];
const iBandHi = [-.6,-.2,.1,.4,1.2,2.4,2.9,2.8,2.4,1.6,1,.8,.5];
const iCore = [[.2,2.65],[.55,2.55],[.8,2.7],[1.15,2.6],[-.1,2.2],[.3,2.3],[.6,2.15],[.95,2.25],[1.2,2.1],[1.55,2.2],[-.3,1.8],[.05,1.9],[.3,1.75],[.65,1.85],[.9,1.7],[1.25,1.85],[1.5,1.75],[1.85,1.8],[-.4,1.4],[-.1,1.5],[.2,1.35],[.5,1.45],[.8,1.35],[1.1,1.5],[1.4,1.35],[1.7,1.45],[2.05,1.35],[-.6,1],[-.25,1.1],[0,.95],[.3,1.05],[.6,.95],[.95,1.05],[1.2,.95],[1.5,1.05],[1.8,.95],[2.15,1.05],[2.4,.95],[-1,.6],[-.7,.65],[-.4,.55],[-.1,.7],[.2,.55],[.5,.65],[.8,.55],[1.1,.7],[1.4,.55],[1.7,.65],[2,.55],[2.3,.65],[2.65,.55],[3,.6],[-1.3,.25],[-1,.3],[-.7,.2],[-.4,.3],[-.1,.2],[.2,.3],[.5,.2],[.8,.3],[1.1,.2],[1.4,.3],[1.7,.2],[2,.3],[2.4,.2],[2.8,.25],[-1.7,-.1],[-1.4,-.05],[-1.1,-.15],[-.8,-.05],[-.5,-.15],[-.2,-.05],[.1,-.15],[.4,-.05],[.7,-.15],[1,-.05],[1.3,-.1],[1.65,-.05],[2,-.1],[-2.1,-.45],[-1.8,-.4],[-1.5,-.5],[-1.2,-.4],[-.9,-.5],[-.6,-.4],[-.3,-.5],[0,-.4],[.3,-.5],[.6,-.4],[.9,-.45],[-2.4,-.8],[-2.1,-.85],[-1.8,-.75],[-1.5,-.85],[-1.2,-.75],[-.9,-.85],[-.6,-.75],[-.3,-.85],[0,-.75],[.3,-.8],[-2.4,-1.2],[-2.1,-1.15],[-1.8,-1.25],[-1.5,-1.15],[-1.2,-1.25],[-.9,-1.15],[-.6,-1.25],[-.3,-1.15],[0,-1.25],[.2,-1.15],[-2.2,-1.6],[-1.9,-1.55],[-1.6,-1.65],[-1.3,-1.55],[-1,-1.65],[-.7,-1.55],[-.4,-1.65],[-.1,-1.55],[.1,-1.6],[-1.7,-2],[-1.4,-1.95],[-1.1,-2.05],[-.8,-1.95],[-.5,-2.05],[-.2,-1.95],[-1,-2.4],[-.6,-2.35],[-.3,-2.45],[.05,2.9],[.4,3.1],[.05,3.4],[-.05,.35],[.35,.05],[.65,.4],[-.35,-.25],[-.65,-.65],[-.95,-.3],[-.25,-1],[-.5,-.95],[.45,.85],[.85,.8],[.3,1.55],[.7,1.6]];
const iSparse = [[.6,7.4],[.85,6.9],[2.2,6.5],[2.2,6.2],[3.5,6.85],[3.9,6.5],[1.9,5.9],[2.7,5.8],[3.4,6],[4.4,5.5],[2.1,5.1],[4.2,5],[4.8,5],[2.5,5],[5.3,4.5],[5.85,4.1],[5.9,3.7],[1.5,4.3],[1.1,4],[2,4.6],[2.9,4.2],[3.9,4],[3.05,3.6],[2,3.6],[.85,4.5],[.3,4.9],[.1,4],[.3,3.6],[-.2,3.6],[-.25,2.9],[-1.36,2.76],[3.55,3],[4.4,2.9],[4,2.5],[4.75,2.1],[3.55,2.1],[3.05,2.5],[4.9,1.4],[3.8,1.3],[4.4,.76],[3.3,.65],[5.3,.2],[5.2,.8],[-4.07,.43],[-4.6,-.33],[-3.2,0],[-2.7,2],[-1.7,1.5],[-2.8,-.1],[-3.7,-.4],[-5.1,-2.7],[-5.2,-2.85],[-3.56,-1.85],[-3.3,-2.1],[-3.9,-2.9],[-3.4,-3],[-2.9,-2.2],[-2.6,-2.6],[-3,-3.7],[-4.2,-3.6],[-4.66,-4],[-5.1,-4.2],[-5.1,-4.5],[-4.15,-4.1],[-5.85,-5],[-5.2,-5.1],[-4.6,-5.2],[-6.07,-5.87],[-1.7,-4.2],[-2,-3.4],[-1.36,-3.6],[-1.9,-4.7],[-.6,-3.6],[-.17,-4.7],[-1.44,-5.4],[-2.4,-4.5],[-1,-2.9],[-.7,-2],[0,-3],[.5,-1.3],[1.6,-.76],[1.9,-1.4],[1.36,-2.5],[2.4,-2.5],[2.7,-1],[3.2,-1.4],[.2,5.2],[.4,4.2],[.1,4.6],[1,3.3],[1.3,3.2],[1.7,3.1],[2.4,3.2],[-.5,4.9],[-.7,3.2],[-2,.3],[-2.5,.6],[-3,-.9],[-2.8,-1.5],[-3.4,-1.3],[2.6,2.2],[2.9,1.8],[3.2,1.4],[2.3,2.6],[1.9,2.9],[1.5,3.6],[3.5,1],[3.8,.4],[2.9,-.5],[3.4,-.2],[1.4,-1.2],[.9,-1.9],[.3,-2.6],[-.2,-2.9],[-2.2,-2.5],[-1.6,-2.8],[-2.6,-1.9],[-3.1,-.5],[-2.7,.3],[-2.1,.8],[-1.4,1.1],[-.9,1.9],[-.6,2.4]];
const iOrangeGenes = ['Nhlh1','Ebf3','Insm1','Ebf2','Prtm8','Pax3','Sox3','Neurod1'];
const iOrangeX = [-.02,-.07,.58,1.37,.27,.32,.61,-1.49];
const iOrangeY = [9.54,7.98,6.74,6.33,5.7,5.54,3.89,3.85];
const iOrangeAt = [[461,148],[459,213,507,218],[613,197,606,226],[679,253,660,275],[414,265,477,285],[422,312,475,320],[418,355,470,362],[358,408]];
const iGreenGenes = ['Dll3','Onecut2','Map2','Tubb3'];
const iGreenX = [5.41,3.05,2.41,1.54];
const iGreenY = [5.67,5.37,4.0,2.54];
const iGreenAt = [[909,334],[890,265,880,288],[933,390,878,397],[895,483,850,482]];
const iBlueGenes = ['Tfap2b','Cdx2','H19','Hand1','Bmp7','Krt7','Id3','Krt8','Gata2'];
const iBlueX = [2.63,1.15,2.66,3.97,3.31,3.68,2.15,1.1,.86];
const iBlueY = [.43,.07,-.17,-.5,-.57,-1.33,-1.78,-1.78,-2.17];
const iBlueAt = [[897,558,840,563],[659,768,637,752],[760,747,738,718],[912,632,860,624],[858,668,805,660],[801,704],[686,723],[620,800,606,765],[595,847,567,820]];
const iRedGenes = ['Pou5f1','Klf2','Sox2','Prdm14','Nanog','Klf4'];
const iRedX = [-1.2,-1.5,-1.37,-4.27,-3.2,-2.39];
const iRedY = [.26,-.24,-.39,-2.26,-2.57,-3.2];
const iRedAt = [[325,475,388,497],[300,525,342,540],[245,560,300,575],[213,687],[275,877,320,850],[411,885,401,858]];

/* ---------- helpers ---------- */
const NS = 'http://www.w3.org/2000/svg';
const root = document.getElementById('plots');
function linear(d0,r0,d1,r1){ return v => r0 + (v-d0)*(r1-r0)/(d1-d0); }
function add(parent, tag, attrs, name){
  const el = document.createElementNS(NS, tag);
  for (const k in attrs) el.setAttribute(k, attrs[k]);
  
  
  parent.appendChild(el);
  return el;
}
function label(parent, str, x, y, size, fill, anchor, name, rot){
  const a = {x:x, y:y, 'font-size':size, fill:fill, 'text-anchor':anchor||'start'};
  if (rot) a.transform = 'rotate('+rot+' '+x+' '+y+')';
  const t = add(parent, 'text', a, name);
  t.textContent = str;
  return t;
}
function axes(g, o){
  add(g,'line',{x1:o.x0,y1:o.y1,x2:o.x0,y2:o.y0,stroke:o.color,'stroke-width':o.w},o.id+'-y-axis');
  add(g,'line',{x1:o.x0,y1:o.y1,x2:o.x1,y2:o.y1,stroke:o.color,'stroke-width':o.w},o.id+'-x-axis');
  o.tx.forEach(v=>{
    add(g,'line',{x1:o.sx(v),y1:o.y1,x2:o.sx(v),y2:o.y1+2,stroke:o.color,'stroke-width':.8},o.id+'-x-tick');
    label(g,o.fmtX?o.fmtX(v):String(v),o.sx(v),o.y1+o.size+o.pad,o.size,o.tcolor,'middle',o.id+'-x-tick-label');
  });
  o.ty.forEach(v=>{
    add(g,'line',{x1:o.x0-2,y1:o.sy(v),x2:o.x0,y2:o.sy(v),stroke:o.color,'stroke-width':.8},o.id+'-y-tick');
    label(g,o.fmtY?o.fmtY(v):String(v),o.x0-3.5,o.sy(v)+o.size*.36,o.size,o.tcolor,'end',o.id+'-y-tick-label');
  });
}
function band(g, xs, lo, hi, sx, sy, style, name){
  const up = xs.map((x,i)=>sx(x)+','+sy(hi[i]));
  const down = xs.map((x,i)=>sx(x)+','+sy(lo[i])).reverse();
  add(g,'polygon',Object.assign({points:up.concat(down).join(' '),filter:'url(#soft)'},style),name);
}
function cloud(g, pts, sx, sy, r, style, name){
  pts.forEach(p=>{
    const a = Object.assign({cx:sx(p[0]),cy:sy(p[1]),r:r},style);
    add(g,'circle',a,name);
  });
}
function genes(g, o){
  o.names.forEach((n,i)=>{
    const l = o.at[i];
    if (l.length>2) add(g,'line',{x1:o.ox+l[2]/3,y1:o.oy+l[3]/3,x2:o.sx(o.xs[i]),y2:o.sy(o.ys[i]),stroke:o.leader||'#222','stroke-width':o.lw||.7},n.toLowerCase()+'-leader');
  });
  if (o.r) o.names.forEach((n,i)=>{
    add(g,'circle',{cx:o.sx(o.xs[i]),cy:o.sy(o.ys[i]),r:o.r,fill:o.fill,stroke:o.stroke,'stroke-width':o.sw||.6},n.toLowerCase()+'-point');
  });
  o.names.forEach((n,i)=>{
    const l = o.at[i];
    label(g,n,o.ox+l[0]/3,o.oy+l[1]/3+o.size*.35,o.size,o.tcolor||'#333','middle',n.toLowerCase()+'-label');
  });
}
function diamond(g, cx, cy, s, fill, name){
  add(g,'polygon',{points:[cx,cy-s,cx+s,cy,cx,cy+s,cx-s,cy].join(' '),fill:fill,stroke:'#333','stroke-width':.9},name);
}

/* ---------- panel b ---------- */
(function(){
  const g = add(root,'g',{},'panel-b-scatter');
  const sx = linear(0,72,6,234), sy = linear(0,463.3,6,300);
  band(g,bBandX,bBandLo,bBandHi,sx,sy,{fill:'#cfcfcf',stroke:'#cfcfcf','stroke-width':2,'stroke-linejoin':'round'},'b-gene-density');
  cloud(g,bCloud,sx,sy,2.8,{fill:'#b4b4b4','fill-opacity':.45,stroke:'#e4e4e4','stroke-width':.4},'gene-point');
  cloud(g,bAxisEdge,sx,sy,1.2,{fill:'#555'},'axis-edge-point');
  axes(g,{id:'b',x0:30,x1:236,y0:291,y1:505,sx:sx,sy:sy,tx:bTicks,ty:bTicks,color:'#8a8a8a',w:1.2,size:13,pad:0,tcolor:'#555'});
  genes(g,{names:bGenes,xs:bGeneX,ys:bGeneY,at:bLabelAt,sx:sx,sy:sy,ox:0,oy:270,size:9,tcolor:'#333',leader:'#333',lw:.5,r:1.6,fill:'#6aa832',stroke:'#6aa832',sw:.3});
  label(g,'Log10(Norm. Reads) Ascl1',138,531,12.6,'#222','middle','b-x-axis-title');
  label(g,'Log10(Norm. Reads) Ngn2',17,400,12.6,'#222','middle','b-y-axis-title',-90);
})();

/* ---------- panels c, d ---------- */
const tealDay = {0:'#cfe8e6',2:'#a3d5d6',3:'#6db7c4',4:'#3b98ae',6:'#0a7e9b'};
const amberDay = {0:'#f5e3c3',2:'#f8d49a',3:'#f6bf6b',4:'#f6a83f',6:'#f3931b'};
function pca(o){
  const g = add(root,'g',{},o.id+'-pca');
  axes(g,{id:o.id,x0:o.x0,x1:o.x1,y0:32,y1:o.y1,sx:o.sx,sy:o.sy,tx:cTickX,ty:cTickY,color:'#8a8a8a',w:1,size:7.6,pad:2,tcolor:'#8a8a8a',fmtX:v=>v.toFixed(2),fmtY:v=>v.toFixed(1)});
  o.dx.forEach((v,i)=>diamond(g,o.sx(v),o.sy(o.dy[i]),5.6,o.colors[o.dd[i]],o.id+'-venus-pos-point'));
  o.cx.forEach((v,i)=>add(g,'circle',{cx:o.sx(v),cy:o.sy(o.cy[i]),r:4.5,fill:o.colors[o.cd[i]],stroke:'#333','stroke-width':.7},o.id+'-venus-neg-point'));
  label(g,o.title,o.tx,25,16,'#222','middle',o.id+'-title');
  label(g,'PC1',o.pc1,197,9.8,'#222','middle',o.id+'-x-axis-title');
  label(g,'PC2',o.pc2,105,9.8,'#222','middle',o.id+'-y-axis-title',-90);
  return g;
}
const cg = pca({id:'c',x0:439.3,x1:583,y1:176,sx:linear(.15,445,.20,576.7),sy:linear(0,110,.3,38.6),dx:cDiamondX,dy:cDiamondY,dd:cDiamondDay,cx:cCircleX,cy:cCircleY,cd:cCircleDay,colors:tealDay,title:'Ascl1',tx:507,pc1:511,pc2:415});
label(cg,'iN',451,67,16.5,'#222','start','c-in-label');
label(cg,'D6',478,132,17,'#222','start','c-d6-label');
label(cg,'neg',500,137.5,9.5,'#222','start','c-neg-subscript');
label(cg,'ESC',448,168.5,16.5,'#222','start','c-esc-label');
const dg = pca({id:'d',x0:629,x1:770,y1:175,sx:linear(.15,635,.20,768.3),sy:linear(0,109.3,.3,37.7),dx:dDiamondX,dy:dDiamondY,dd:dDiamondDay,cx:dCircleX,cy:dCircleY,cd:dCircleDay,colors:amberDay,title:'Ngn2',tx:700,pc1:701,pc2:604});
label(dg,'iN',640,75,16.5,'#222','start','d-in-label');
label(dg,'D6',725,78,17,'#222','start','d-d6-label');
label(dg,'neg',747,83,9.5,'#222','start','d-neg-subscript');
label(dg,'ESC',644,168.5,16.5,'#222','start','d-esc-label');

/* ---------- legend under c, d ---------- */
(function(){
  const g = add(root,'g',{},'pca-legend');
  add(g,'circle',{cx:455,cy:217,r:6,fill:'#fff',stroke:'#333','stroke-width':.9},'legend-venus-neg-symbol');
  diamond(g,455,234.5,7,'#fff','legend-venus-pos-symbol');
  label(g,'Venus-neg',464,222,12.4,'#333','start','legend-venus-neg');
  label(g,'Venus-pos',464,239,12.4,'#333','start','legend-venus-pos');
  label(g,'Ascl1',538,222,12.4,'#333','start','legend-ascl1');
  label(g,'Day:',542.7,239,12.4,'#333','start','legend-ascl1-day');
  label(g,'Ngn2',661,222,12.4,'#333','start','legend-ngn2');
  label(g,'Day:',668,239,12.4,'#333','start','legend-ngn2-day');
  legendDays.forEach((d,i)=>{
    const ax = 580+i*14.6, nx = 705.7+i*14;
    add(g,'circle',{cx:ax,cy:217,r:6.2,fill:tealDay[d],stroke:'#333','stroke-width':.7},'legend-ascl1-day-'+d);
    add(g,'circle',{cx:nx,cy:217,r:6.2,fill:amberDay[d],stroke:'#333','stroke-width':.7},'legend-ngn2-day-'+d);
    label(g,String(d),ax+1,240.5,12.4,'#333','middle','legend-ascl1-day-label');
    label(g,String(d),703+i*14,240.5,12.4,'#333','middle','legend-ngn2-day-label');
  });
})();

/* ---------- panel e ---------- */
(function(){
  const g = add(root,'g',{},'panel-e-volcano');
  const sx = linear(0,402.3,10,491.7), sy = linear(0,496.7,30,299);
  const fan = {fill:'#1f7c9f','fill-opacity':.92};
  band(g,eLeftBandX,eLeftBandLo,eLeftBandHi,sx,sy,fan,'e-left-density');
  band(g,eRightBandX,eRightBandLo,eRightBandHi,sx,sy,fan,'e-right-density');
  cloud(g,eBlue,sx,sy,3.5,{fill:'#2a86a8','fill-opacity':.55},'gene-point');
  cloud(g,eOriginDark,sx,sy,1.8,{fill:'#0c2a38'},'origin-point');
  cloud(g,eOriginLight,sx,sy,2.4,{fill:'#3f9dc0'},'origin-point');
  add(g,'line',{x1:sx(0),x2:sx(0),y1:290,y2:506,stroke:'#333','stroke-width':.9,'stroke-dasharray':'4 3'},'e-zero-x-line');
  add(g,'line',{x1:295,x2:510,y1:sy(0),y2:sy(0),stroke:'#333','stroke-width':.9,'stroke-dasharray':'4 3'},'e-zero-y-line');
  axes(g,{id:'e',x0:294.3,x1:510,y0:290,y1:506.7,sx:sx,sy:sy,tx:eTickX,ty:eTickY,color:'#555',w:1.2,size:13.5,pad:0,tcolor:'#666'});
  genes(g,{names:eGenes,xs:eGeneX,ys:eGeneY,at:eLabelAt,sx:sx,sy:sy,ox:240,oy:270,size:9.8,leader:'#222',lw:.8,r:2.8,fill:'#e8262a',stroke:'#a82020'});
  label(g,'Ascl1',401,285,16.4,'#222','middle','e-title');
  label(g,'Venus-pos vs Venus-neg (Ascl1)',402,531,12.6,'#222','middle','e-x-axis-title');
  label(g,'-log10(FDR)',272,398,12.4,'#222','middle','e-y-axis-title',-90);
})();

/* ---------- panel f ---------- */
(function(){
  const g = add(root,'g',{},'panel-f-volcano');
  const sx = linear(0,671.7,10,762.7), sy = linear(0,497.3,20,319);
  const fan = {fill:'#d4a548','fill-opacity':.95};
  band(g,fLeftBandX,fLeftBandLo,fLeftBandHi,sx,sy,fan,'f-left-density');
  band(g,fRightBandX,fRightBandLo,fRightBandHi,sx,sy,fan,'f-right-density');
  cloud(g,fGold,sx,sy,3.4,{fill:'#dcb163','fill-opacity':.6},'gene-point');
  cloud(g,fOriginDark,sx,sy,1.8,{fill:'#3a2a10'},'origin-point');
  cloud(g,fOriginLight,sx,sy,2.4,{fill:'#e0ad50'},'origin-point');
  add(g,'line',{x1:sx(0),x2:sx(0),y1:287,y2:507,stroke:'#555','stroke-width':1,'stroke-dasharray':'4 3'},'f-zero-x-line');
  add(g,'line',{x1:562,x2:782,y1:sy(0),y2:sy(0),stroke:'#444','stroke-width':.9,'stroke-dasharray':'4 3'},'f-zero-y-line');
  axes(g,{id:'f',x0:561.7,x1:782,y0:287,y1:507,sx:sx,sy:sy,tx:fTickX,ty:fTickY,color:'#8a8a8a',w:1.4,size:13.5,pad:0,tcolor:'#666'});
  genes(g,{names:fGenes,xs:fGeneX,ys:fGeneY,at:fLabelAt,sx:sx,sy:sy,ox:510,oy:270,size:9.8,leader:'#222',lw:.8,r:2.8,fill:'#e8262a',stroke:'#c02020'});
  label(g,'Ngn2',669,284,16.4,'#222','middle','f-title');
  label(g,'Venus-pos vs Venus-neg (Ngn2)',672,531,12.6,'#222','middle','f-x-axis-title');
  label(g,'-log10(FDR)',541,398,12.4,'#222','middle','f-y-axis-title',-90);
})();

/* ---------- panel i ---------- */
(function(){
  const g = add(root,'g',{},'panel-i-scatter');
  const sx = linear(0,560,6,677.7), sy = linear(0,741.7,10,588.7);
  cloud(g,iSparse,sx,sy,1.7,{fill:'#b5b5b5','fill-opacity':.8},'gene-point');
  band(g,iBandX,iBandLo,iBandHi,sx,sy,{fill:'#868686'},'i-gene-density');
  cloud(g,iCore,sx,sy,2.4,{fill:'#8a8a8a','fill-opacity':.7,stroke:'#ababab','stroke-width':.4},'gene-point');
  add(g,'line',{x1:sx(0),x2:sx(0),y1:581,y2:843,stroke:'#777','stroke-width':1.3},'i-zero-x-line');
  add(g,'line',{x1:429,x2:691.7,y1:sy(0),y2:sy(0),stroke:'#777','stroke-width':1.3},'i-zero-y-line');
  axes(g,{id:'i',x0:428.7,x1:691.7,y0:581,y1:843.3,sx:sx,sy:sy,tx:iTickX,ty:iTickY,color:'#666',w:1,size:12.5,pad:2,tcolor:'#666'});
  const base = {sx:sx,sy:sy,ox:380,oy:540,size:11.8,leader:'#333',lw:.7,r:2.3,stroke:'#333',sw:.5};
  genes(g,Object.assign({names:iOrangeGenes,xs:iOrangeX,ys:iOrangeY,at:iOrangeAt,fill:'#e9a23b'},base));
  genes(g,Object.assign({names:iGreenGenes,xs:iGreenX,ys:iGreenY,at:iGreenAt,fill:'#8cc04b'},base));
  genes(g,Object.assign({names:iBlueGenes,xs:iBlueX,ys:iBlueY,at:iBlueAt,fill:'#1a7ea0'},base));
  genes(g,Object.assign({names:iRedGenes,xs:iRedX,ys:iRedY,at:iRedAt,fill:'#d5343a'},base));
  label(g,'Day0 vs Day1 LFC (Ascl1)',560,873,12.6,'#333','middle','i-x-axis-title');
  label(g,'Day0 vs Day1 LFC (Ngn2)',404,712,12.6,'#333','middle','i-y-axis-title',-90);
})();
</script>
</body>
</html>
